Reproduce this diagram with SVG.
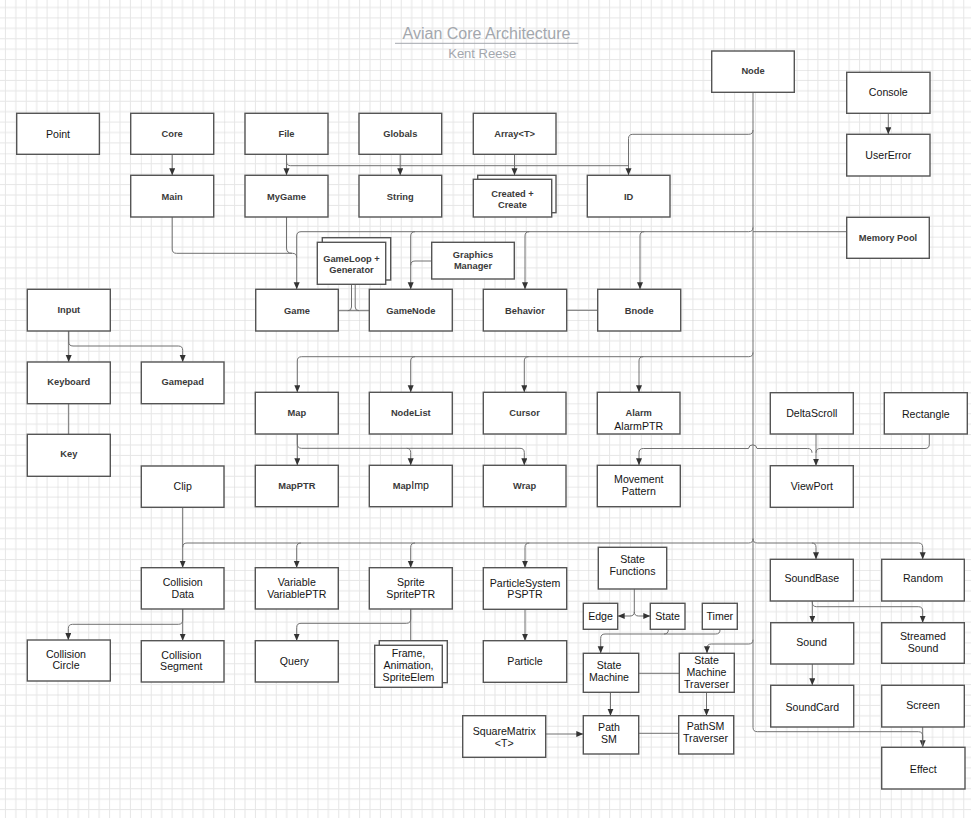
<svg xmlns="http://www.w3.org/2000/svg" width="971" height="818" viewBox="0 0 971 818">
  <defs>
    <pattern id="grid" width="83.333" height="83.333" patternUnits="userSpaceOnUse" patternTransform="translate(57.5,70)">
      <path d="M10.417,0V83.333M20.833,0V83.333M31.25,0V83.333M41.667,0V83.333M52.083,0V83.333M62.5,0V83.333M72.917,0V83.333M0,10.417H83.333M0,20.833H83.333M0,31.25H83.333M0,41.667H83.333M0,52.083H83.333M0,62.5H83.333M0,72.917H83.333" stroke="#e6e6e6" stroke-width="1" fill="none"/>
      <path d="M0,0V83.333M0,0H83.333" stroke="#d6d6d6" stroke-width="1" fill="none"/>
    </pattern>
    <marker id="arr" markerWidth="8" markerHeight="8" refX="7" refY="3" orient="auto" markerUnits="userSpaceOnUse">
      <path d="M0,0L7,3L0,6z" fill="#333"/>
    </marker>
  </defs>
  <style>
    .box{fill:#fff;stroke:#555;stroke-width:1.4}
    .b{font-family:"Liberation Sans",Arial,sans-serif;font-weight:bold;font-size:9.3px;fill:#3a3a3a;text-anchor:middle}
    .r{font-family:"Liberation Sans",Arial,sans-serif;font-size:10.6px;fill:#151515;text-anchor:middle}
    .c{fill:none;stroke:#707070;stroke-width:1}
    .a{marker-end:url(#arr)}
    .t{font-family:"Liberation Sans",Arial,sans-serif;fill:#a3a7ad;text-anchor:middle}
  </style>

  <rect width="971" height="818" fill="#fff"/>
  <rect width="971" height="818" fill="url(#grid)"/>

  <!-- title -->
  <g id="title">
    <text class="t" x="486.5" y="39.3" font-size="16px">Avian Core Architecture</text>
    <line x1="395" y1="43.3" x2="578.3" y2="43.3" stroke="#a3a7ad" stroke-width="1"/>
    <text class="t" x="482.2" y="57.7" font-size="13px">Kent Reese</text>
  </g>

  <!-- connectors -->
  <g id="connectors">
    <path class="c a" d="M172.2,154.3V175.3"/>
    <path class="c a" d="M286.5,154.3V175.3"/>
    <path class="c" d="M286.5,154.3V161.5Q286.5,165.7 290.7,165.7H628.5"/>
    <path class="c a" d="M400.2,154.3V175.3"/>
    <path class="c a" d="M514.5,154.3V175.3"/>
    <path class="c a" d="M753,130Q753,134.3 748.7,134.3H632.8Q628.5,134.3 628.5,138.6V175.3"/>
    <path class="c a" d="M888.3,113.3V134.3"/>
    <!-- Node trunk down to Effect -->
    <path class="c a" d="M753,92.3V727.4Q753,731.7 757.3,731.7H918.4Q922.7,731.7 922.7,736V747.3"/>
    <path class="c" d="M922.7,727V747.3"/>
    <!-- Memory Pool / Node to game row -->
    <path class="c" d="M846.7,231.7H753"/>
    <path class="c a" d="M753,227.4Q753,231.7 748.7,231.7H301Q296.7,231.7 296.7,236V289.3"/>
    <path class="c a" d="M415,231.7Q410.7,231.7 410.7,236V289.3"/>
    <path class="c a" d="M529.3,231.7Q525,231.7 525,236V289.3"/>
    <path class="c a" d="M644.3,231.7Q640,231.7 640,236V289.3"/>
    <path class="c" d="M431.7,261H415Q410.7,261 410.7,265.3"/>
    <path class="c" d="M172.2,217V249Q172.2,253.3 176.5,253.3H292.4Q296.7,253.3 296.7,257.6"/>
    <path class="c" d="M286.5,217V248Q286.5,253.3 292,253.3"/>
    <path class="c" d="M338.3,310.7H369.3"/>
    <path class="c" d="M351.5,284.3V307Q351.5,310.7 347.8,310.7"/>
    <path class="c" d="M355.2,284.3V307Q355.2,310.7 358.9,310.7"/>
    <path class="c" d="M566.7,310.3H597.7"/>
    <!-- input -->
    <path class="c a" d="M68.7,331V362"/>
    <path class="c a" d="M68.7,331V341.7Q68.7,346 73,346H178.4Q182.7,346 182.7,350.3V362"/>
    <path class="c" d="M68.7,403.7V434.3"/>
    <!-- Node to map row -->
    <path class="c a" d="M753,352.4Q753,356.7 748.7,356.7H301.6Q297.3,356.7 297.3,361V392.3"/>
    <path class="c a" d="M415,356.7Q410.7,356.7 410.7,361V392.3"/>
    <path class="c a" d="M528.6,356.7Q524.3,356.7 524.3,361V392.3"/>
    <path class="c a" d="M643.3,356.7Q639,356.7 639,361V392.3"/>
    <path class="c a" d="M297.3,434V465.3"/>
    <path class="c a" d="M297.3,434V444Q297.3,448.3 301.6,448.3H406.4Q410.7,448.3 410.7,452.6V465.3"/>
    <path class="c a" d="M406.4,448.3H520Q524.3,448.3 524.3,452.6V465.3"/>
    <!-- viewport -->
    <path class="c a" d="M816,434V465.7"/>
    <path class="c" d="M929.3,434V444.2Q929.3,448.5 925,448.5H820.3Q816,448.5 816,452.8"/>
    <path class="c a" d="M812,452.8Q812,448.5 807.7,448.5H757A4.3,4.3 0 0 0 748.5,448.5H643.3Q639,448.5 639,452.8V465.3"/>
    <!-- clip / Node to collision row -->
    <path class="c a" d="M182.7,507.3V567.7"/>
    <path class="c" d="M753,538.7Q753,543 748.7,543H187Q182.7,543 182.7,547.3"/>
    <path class="c a" d="M301,543Q296.7,543 296.7,547.3V567.7"/>
    <path class="c a" d="M415,543Q410.7,543 410.7,547.3V567.7"/>
    <path class="c a" d="M529.3,543Q525,543 525,547.3V567.7"/>
    <path class="c a" d="M753,538.7Q753,543 757.3,543H811.7Q816,543 816,547.3V559.3"/>
    <path class="c a" d="M811.7,543H918.4Q922.7,543 922.7,547.3V559.3"/>
    <path class="c a" d="M182.7,609V640.7"/>
    <path class="c a" d="M182.7,609V620Q182.7,624.3 178.4,624.3H72.6Q68.3,624.3 68.3,628.6V640"/>
    <path class="c a" d="M410.7,609.3V619Q410.7,623.3 406.4,623.3H301Q296.7,623.3 296.7,627.6V640.7"/>
    <path class="c" d="M410.7,609.3V640.7"/>
    <path class="c a" d="M525,609.3V640.7"/>
    <!-- state machine -->
    <path class="c a" d="M634.3,589V611.7Q634.3,616 630,616H617.7"/>
    <path class="c a" d="M634.3,611.7Q634.3,616 638.6,616H650.3"/>
    <path class="c a" d="M668.3,629.3V630Q668.3,634 664,634H605Q600.7,634 600.7,638.3V653.3"/>
    <path class="c" d="M720,629.3V630Q720,634 715.7,634H664"/>
    <path class="c" d="M638.7,673.3H679.3"/>
    <path class="c a" d="M753,639.7Q753,644 748.7,644H711.3Q707,644 707,648.3V653.3"/>
    <path class="c a" d="M610.5,692.3V715.7"/>
    <path class="c a" d="M706.5,692.3V715.7"/>
    <path class="c a" d="M545.7,734H583.3"/>
    <path class="c" d="M638.7,733.3H678.7"/>
    <!-- sound -->
    <path class="c a" d="M812.3,601V622.7"/>
    <path class="c a" d="M812.3,601V602.4Q812.3,606.7 816.6,606.7H918.4Q922.7,606.7 922.7,611V622.7"/>
    <path class="c a" d="M812.3,664V685.3"/>
  </g>

  <!-- nodes -->
  <g id="point"><rect class="box" x="16.7" y="113.3" width="82.7" height="41"/><text class="r" x="58" y="137.6">Point</text></g>
  <g id="core"><rect class="box" x="130.7" y="113.3" width="83" height="41"/><text class="b" x="172.2" y="137.1">Core</text></g>
  <g id="file"><rect class="box" x="245" y="113.3" width="83" height="41"/><text class="b" x="286.5" y="137.1">File</text></g>
  <g id="globals"><rect class="box" x="359" y="113.3" width="82.7" height="41"/><text class="b" x="400.3" y="137.1">Globals</text></g>
  <g id="array"><rect class="box" x="473.3" y="113.3" width="82.7" height="41"/><text class="b" x="514.6" y="137.1">Array&lt;T&gt;</text></g>
  <g id="main"><rect class="box" x="130.7" y="175.3" width="83" height="41.7"/><text class="b" x="172.2" y="199.5">Main</text></g>
  <g id="mygame"><rect class="box" x="245" y="175.3" width="83" height="41.7"/><text class="b" x="286.5" y="199.5">MyGame</text></g>
  <g id="string"><rect class="box" x="359" y="175.3" width="82.7" height="41.7"/><text class="b" x="400.3" y="199.5">String</text></g>
  <g id="created">
    <rect class="box" x="477.7" y="175.3" width="78.3" height="37.4"/>
    <rect class="box" x="473.3" y="179.3" width="78.4" height="37.7"/>
    <text class="b" x="512.5" y="196.6">Created +</text><text class="b" x="512.5" y="207.6">Create</text>
  </g>
  <g id="id"><rect class="box" x="587.3" y="175.3" width="82.7" height="41.7"/><text class="b" x="628.6" y="199.5">ID</text></g>
  <g id="node"><rect class="box" x="711.7" y="51" width="82.6" height="41.3"/><text class="b" x="753" y="74.2">Node</text></g>
  <g id="console"><rect class="box" x="846.7" y="72.3" width="83.3" height="41"/><text class="r" x="888.3" y="96.1">Console</text></g>
  <g id="usererror"><rect class="box" x="846.7" y="134.3" width="83.3" height="41.7"/><text class="r" x="888.3" y="159">UserError</text></g>
  <g id="memorypool"><rect class="box" x="846.7" y="217.3" width="82.6" height="41"/><text class="b" x="888" y="241.1">Memory Pool</text></g>
  <g id="gameloop">
    <rect class="box" x="322.3" y="237.7" width="68.4" height="42.3"/>
    <rect class="box" x="317.3" y="242.3" width="68.4" height="42"/>
    <text class="b" x="351.5" y="261.5">GameLoop +</text><text class="b" x="351.5" y="272.5">Generator</text>
  </g>
  <g id="graphicsmanager"><rect class="box" x="431.7" y="242.3" width="82.6" height="36.7"/><text class="b" x="473" y="257.6">Graphics</text><text class="b" x="473" y="268.6">Manager</text></g>
  <g id="game"><rect class="box" x="255.7" y="289.3" width="82.6" height="41.7"/><text class="b" x="297" y="313.5">Game</text></g>
  <g id="gamenode"><rect class="box" x="369.3" y="289.3" width="83" height="41.7"/><text class="b" x="410.8" y="313.5">GameNode</text></g>
  <g id="behavior"><rect class="box" x="483.3" y="289.3" width="83.4" height="41.7"/><text class="b" x="525" y="313.5">Behavior</text></g>
  <g id="bnode"><rect class="box" x="597.7" y="289.3" width="83" height="41.7"/><text class="b" x="639.2" y="313.5">Bnode</text></g>
  <g id="input"><rect class="box" x="27.3" y="289.3" width="83" height="41.7"/><text class="b" x="68.8" y="313.2">Input</text></g>
  <g id="keyboard"><rect class="box" x="27.3" y="362" width="83" height="41.7"/><text class="b" x="68.8" y="384.8">Keyboard</text></g>
  <g id="gamepad"><rect class="box" x="141.3" y="362" width="82.7" height="41.7"/><text class="b" x="182.7" y="384.8">Gamepad</text></g>
  <g id="key"><rect class="box" x="27.3" y="434.3" width="83" height="42"/><text class="b" x="68.8" y="457.4">Key</text></g>
  <g id="map"><rect class="box" x="255.3" y="392.3" width="83" height="41.7"/><text class="b" x="296.8" y="415.7">Map</text></g>
  <g id="nodelist"><rect class="box" x="369.3" y="392.3" width="83" height="41.7"/><text class="b" x="410.8" y="415.7">NodeList</text></g>
  <g id="cursor"><rect class="box" x="483.3" y="392.3" width="82.7" height="41.7"/><text class="b" x="524.6" y="415.7">Cursor</text></g>
  <g id="alarm"><rect class="box" x="597.3" y="392.3" width="82.7" height="41.7"/><text class="b" x="638.7" y="415.8">Alarm</text><text class="r" x="638.7" y="429.5">AlarmPTR</text></g>
  <g id="deltascroll"><rect class="box" x="770.3" y="392.7" width="83" height="41.3"/><text class="r" x="811.8" y="416.8">DeltaScroll</text></g>
  <g id="rectangle"><rect class="box" x="884.3" y="392.7" width="83" height="41.3"/><text class="r" x="925.8" y="417.5">Rectangle</text></g>
  <g id="mapptr"><rect class="box" x="255.3" y="465.3" width="83" height="41.4"/><text class="b" x="296.8" y="489">MapPTR</text></g>
  <g id="mapimp"><rect class="box" x="369.3" y="465.3" width="83" height="41.4"/><text x="410.8" y="489.4" text-anchor="middle"><tspan font-family="Liberation Sans, Arial, sans-serif" font-weight="bold" font-size="9.3px" fill="#3a3a3a">Map</tspan><tspan font-family="Liberation Sans, Arial, sans-serif" font-size="10.6px" fill="#151515">Imp</tspan></text></g>
  <g id="wrap"><rect class="box" x="483.3" y="465.3" width="82.7" height="41.4"/><text class="b" x="524.6" y="489">Wrap</text></g>
  <g id="movementpattern"><rect class="box" x="597.3" y="465.3" width="83" height="41.4"/><text class="r" x="638.8" y="482.7">Movement</text><text class="r" x="638.8" y="495.3">Pattern</text></g>
  <g id="viewport"><rect class="box" x="770.3" y="465.7" width="83" height="41.6"/><text class="r" x="811.8" y="490.3">ViewPort</text></g>
  <g id="clip"><rect class="box" x="141.3" y="466" width="82.7" height="41.3"/><text class="r" x="182.7" y="490.2">Clip</text></g>
  <g id="collisiondata"><rect class="box" x="141.3" y="567.7" width="82.7" height="41.3"/><text class="r" x="182.7" y="586.1">Collision</text><text class="r" x="182.7" y="598.1">Data</text></g>
  <g id="variable"><rect class="box" x="255.3" y="567.7" width="83" height="41.3"/><text class="r" x="296.8" y="586.1">Variable</text><text class="r" x="296.8" y="598.1">VariablePTR</text></g>
  <g id="sprite"><rect class="box" x="369.3" y="567.7" width="83" height="41.3"/><text class="r" x="410.8" y="585.5">Sprite</text><text class="r" x="410.8" y="597.5">SpritePTR</text></g>
  <g id="particlesystem"><rect class="box" x="483.3" y="567.7" width="83.4" height="41.6"/><text class="r" x="525" y="586.5">ParticleSystem</text><text class="r" x="525" y="597.8">PSPTR</text></g>
  <g id="statefunctions"><rect class="box" x="598.3" y="547.3" width="68.4" height="41.7"/><text class="r" x="632.5" y="563">State</text><text class="r" x="632.5" y="575">Functions</text></g>
  <g id="edge"><rect class="box" x="583.3" y="603.3" width="34.4" height="26"/><text class="r" x="600.5" y="620.2">Edge</text></g>
  <g id="state"><rect class="box" x="650.3" y="603.3" width="34.7" height="26"/><text class="r" x="667.6" y="619.7">State</text></g>
  <g id="timer"><rect class="box" x="702.3" y="603.3" width="35" height="26"/><text class="r" x="719.8" y="620.2">Timer</text></g>
  <g id="soundbase"><rect class="box" x="770.3" y="559.3" width="83" height="41.7"/><text class="r" x="811.8" y="582.4">SoundBase</text></g>
  <g id="random"><rect class="box" x="881.7" y="559.3" width="82.6" height="41.7"/><text class="r" x="923" y="582.4">Random</text></g>
  <g id="collisioncircle"><rect class="box" x="27.3" y="640" width="83" height="41"/><text class="r" x="66" y="658">Collision</text><text class="r" x="66" y="669">Circle</text></g>
  <g id="collisionsegment"><rect class="box" x="141.3" y="640.7" width="82.7" height="41.3"/><text class="r" x="181.3" y="659">Collision</text><text class="r" x="181.3" y="670.3">Segment</text></g>
  <g id="query"><rect class="box" x="255.3" y="640.7" width="83" height="41.3"/><text class="r" x="294.3" y="664.7">Query</text></g>
  <g id="frame">
    <rect class="box" x="379.3" y="640.7" width="68" height="42"/>
    <rect class="box" x="374.7" y="645.3" width="67.6" height="42"/>
    <text class="r" x="408.5" y="657">Frame,</text><text class="r" x="408.5" y="668.7">Animation,</text><text class="r" x="408.5" y="681">SpriteElem</text>
  </g>
  <g id="particle"><rect class="box" x="483.3" y="640.7" width="83.4" height="41.6"/><text class="r" x="525" y="664.6">Particle</text></g>
  <g id="statemachine"><rect class="box" x="583.3" y="653.3" width="55.4" height="39"/><text class="r" x="609" y="669.3">State</text><text class="r" x="609" y="681.3">Machine</text></g>
  <g id="smtraverser"><rect class="box" x="679.3" y="653.3" width="55" height="39"/><text class="r" x="706.5" y="663.8">State</text><text class="r" x="706.5" y="676.1">Machine</text><text class="r" x="706.5" y="688">Traverser</text></g>
  <g id="pathsm"><rect class="box" x="583.3" y="715.7" width="55.4" height="38.3"/><text class="r" x="609" y="730.9">Path</text><text class="r" x="609" y="742.9">SM</text></g>
  <g id="pathsmtraverser"><rect class="box" x="678.7" y="715.7" width="55" height="38.3"/><text class="r" x="705.5" y="729.9">PathSM</text><text class="r" x="705.5" y="741.9">Traverser</text></g>
  <g id="squarematrix"><rect class="box" x="462.7" y="715.7" width="83" height="41.6"/><text class="r" x="504.2" y="735">SquareMatrix</text><text class="r" x="504.2" y="747">&lt;T&gt;</text></g>
  <g id="sound"><rect class="box" x="770.7" y="622.7" width="83" height="41.3"/><text class="r" x="811.5" y="645.9">Sound</text></g>
  <g id="streamedsound"><rect class="box" x="881.7" y="622.7" width="82.6" height="40.6"/><text class="r" x="923" y="640.2">Streamed</text><text class="r" x="923" y="652.2">Sound</text></g>
  <g id="soundcard"><rect class="box" x="770.7" y="685.3" width="83" height="41.7"/><text class="r" x="812.3" y="710.6">SoundCard</text></g>
  <g id="screen"><rect class="box" x="881.7" y="685.3" width="82.6" height="41.7"/><text class="r" x="923" y="708.8">Screen</text></g>
  <g id="effect"><rect class="box" x="881.7" y="747.3" width="83.3" height="41.7"/><text class="r" x="923.3" y="772.8">Effect</text></g>
</svg>
